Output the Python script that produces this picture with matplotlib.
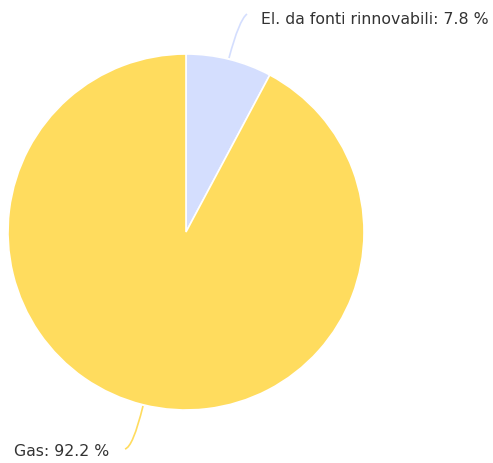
import matplotlib.pyplot as plt
from matplotlib.path import Path
from matplotlib.patches import PathPatch

# data
categories = ["El. da fonti rinnovabili", "Gas"]
values = [7.8, 92.2]
colors = ["#D4DEFE", "#FFDC5E"]

W, H = 493, 463
fig = plt.figure(figsize=(W / 100, H / 100), dpi=100)
ax = fig.add_axes([0, 0, 1, 1])

cx, cy, r = 186, H - 232, 178
ax.pie(values, colors=colors, startangle=90, counterclock=False,
       center=(cx, cy), radius=r, frame=True,
       wedgeprops=dict(edgecolor="white", linewidth=1.2))
ax.set_xlim(0, W)
ax.set_ylim(0, H)
ax.set_aspect("equal")
ax.axis("off")


def connector(pts, color):
    verts = [(x, H - y) for x, y in pts]
    path = Path(verts, [Path.MOVETO, Path.CURVE3, Path.CURVE3])
    ax.add_patch(PathPatch(path, facecolor="none", edgecolor=color, lw=1.2))


# labels with curved connectors
connector([(229, 58), (239, 20), (247, 14)], colors[0])
ax.text(261, H - 19, f"{categories[0]}: {values[0]} %", fontsize=11.3,
        color="#333333", ha="left", va="center")

connector([(143, 406), (133, 447), (125, 449)], colors[1])
ax.text(109, H - 452, f"{categories[1]}: {values[1]} %", fontsize=11.3,
        color="#333333", ha="right", va="center")

fig.savefig("out.png", dpi=100)
